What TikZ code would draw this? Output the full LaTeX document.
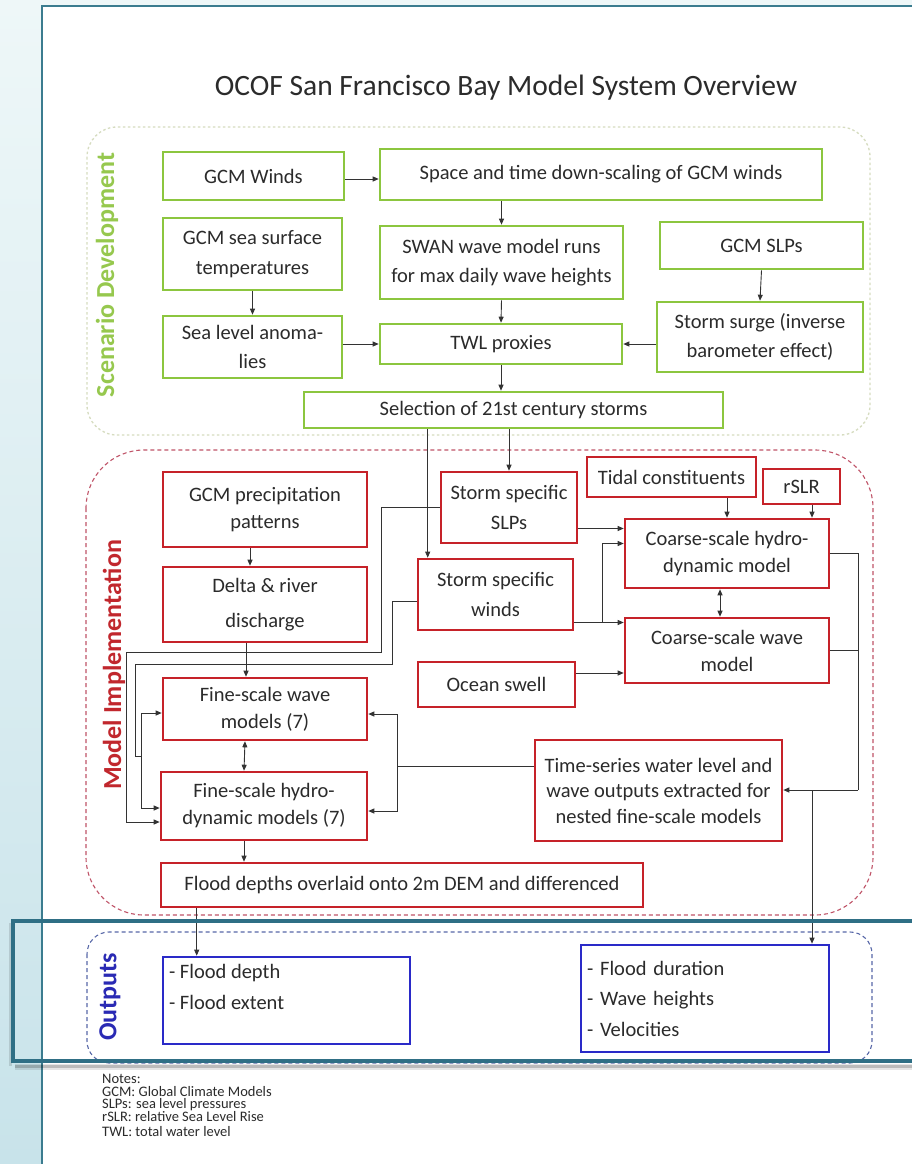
\documentclass[tikz,border=0pt]{standalone}
\usepackage{fontspec}
\setmainfont{Carlito}
\usetikzlibrary{arrows.meta,calc}

\definecolor{gframe}{HTML}{8CC63F}
\definecolor{rframe}{HTML}{C62229}
\definecolor{bframe}{HTML}{2A2AC8}
\definecolor{scgreen}{HTML}{96C84E}
\definecolor{mired}{HTML}{C1272D}
\definecolor{outblue}{HTML}{2A2AB4}
\definecolor{txt}{HTML}{2B2B2B}
\definecolor{lineg}{HTML}{333333}
\definecolor{pageteal}{HTML}{3B7C8F}
\definecolor{hlteal}{HTML}{2F6F85}
\definecolor{scenline}{HTML}{D6DCC0}
\definecolor{modelline}{HTML}{C05468}
\definecolor{outline}{HTML}{5868A8}
\definecolor{stripTop}{HTML}{EEF7F8}
\definecolor{stripBot}{HTML}{C8E3EA}

\begin{document}
\begin{tikzpicture}[x=1pt,y=-1pt,
  box/.style={draw, line width=2.6pt, inner sep=2pt, align=center, text=txt,
    font=\fontsize{20.5}{27}\selectfont},
  gbox/.style={box, draw=gframe, font=\fontsize{20.5}{29.5}\selectfont},
  rbox/.style={box, draw=rframe},
  bbox/.style={box, draw=bframe, align=left, font=\fontsize{20.5}{30.5}\selectfont},
  conn/.style={draw=lineg, line width=0.9pt},
  arr/.style={conn, -{Triangle[length=6pt,width=5pt]}},
  darr/.style={conn, {Triangle[length=6pt,width=5pt]}-{Triangle[length=6pt,width=5pt]}},
  seclabel/.style={rotate=90, font=\fontsize{26}{30}\selectfont\bfseries},
]
\useasboundingbox (0,0) rectangle (912,1164);

% backdrop and page
\shade[top color=stripTop, bottom color=stripBot] (0,0) rectangle (42,1164);
\fill[stripTop] (42,0) rectangle (912,6);
\fill[white] (42,6) rectangle (912,1164);
\draw[pageteal, line width=2pt] (42,1164) -- (42,6) -- (912,6);

% title
\node[text=txt, font=\fontsize{29.5}{34}\selectfont] (title) at (506,88) {OCOF San Francisco Bay Model System Overview};

% section frames
\draw[scenline, line width=1.3pt, dash pattern=on 2.5pt off 2.5pt, rounded corners=30pt]
  (87,127) rectangle (870,435);
\draw[modelline, line width=1.1pt, dash pattern=on 4pt off 3pt, rounded corners=58pt]
  (86,450) rectangle (873,915);
\draw[outline, line width=1.1pt, dash pattern=on 4pt off 3pt, rounded corners=22pt]
  (87,932) rectangle (872,1063);

% section labels
\node[seclabel, text=scgreen] (lscen) at (107,275) {Scenario Development};
\node[seclabel, text=mired] (lmodel) at (114,665) {Model Implementation};
\node[seclabel, text=outblue] (lout) at (110,997) {Outputs};

% scenario development
\node[gbox, minimum width=181pt, minimum height=48pt] (gcmw) at (253.5,176) {GCM Winds};
\node[gbox, minimum width=442pt, minimum height=51pt] (space) at (601,174.5) {Space and time down-scaling of GCM winds};
\node[gbox, minimum width=179pt, minimum height=72pt] (sst) at (252.5,254) {GCM sea surface\\temperatures};
\node[gbox, minimum width=243pt, minimum height=73pt] (swan) at (501.5,262.5) {SWAN wave model runs\\for max daily wave heights};
\node[gbox, minimum width=203pt, minimum height=47pt] (gslp) at (761.5,245.5) {GCM SLPs};
\node[gbox, minimum width=179pt, minimum height=62pt] (sla) at (252.5,347) {Sea level anoma-\\lies};
\node[gbox, minimum width=242pt, minimum height=40pt] (twl) at (501,344) {TWL proxies};
\node[gbox, minimum width=206pt, minimum height=70pt] (surge) at (760,337) {Storm surge (inverse\\barometer effect)};
\node[gbox, minimum width=419pt, minimum height=36pt] (sel) at (513.5,410) {Selection of 21st century storms};

\draw[arr] ([yshift=-3pt]gcmw.east) -- ([yshift=-3pt]gcmw.east -| space.west);
\draw[arr] (swan.north |- space.south) -- (swan.north);
\draw[arr] (swan.south) -- (twl.north);
\draw[arr] (twl.south) -- (twl.south |- sel.north);
\draw[arr] (sst.south) -- (sla.north);
\draw[arr] (twl.west -| sla.east) -- (twl.west);
\draw[arr] (gslp.south) -- (surge.north);
\draw[arr] (surge.west |- twl.east) -- (twl.east);

% model implementation
\node[rbox, minimum width=204pt, minimum height=75pt] (gprec) at (265,509.5) {GCM precipitation\\patterns};
\node[rbox, minimum width=204pt, minimum height=75pt] (delta) at (265,604.5) {Delta \& river\\[8pt]discharge};
\node[rbox, minimum width=204pt, minimum height=62pt] (fwave) at (265,709) {Fine-scale wave\\models (7)};
\node[rbox, minimum width=206pt, minimum height=68pt] (fhydro) at (264,806) {Fine-scale hydro-\\dynamic models (7)};
\node[rbox, minimum width=482pt, minimum height=44pt] (flood) at (402,885) {Flood depths overlaid onto 2m DEM and differenced};
\node[rbox, minimum width=136pt, minimum height=71pt] (sslp) at (509,507.5) {Storm specific\\[3pt]SLPs};
\node[rbox, minimum width=155pt, minimum height=71pt] (swind) at (495.5,594.5) {Storm specific\\[3pt]winds};
\node[rbox, minimum width=157pt, minimum height=45pt] (swell) at (496.5,684.5) {Ocean swell};
\node[rbox, minimum width=169pt, minimum height=40pt] (tidal) at (671.5,477) {Tidal constituents};
\node[rbox, minimum width=77pt, minimum height=35pt] (rslr) at (801.5,486.5) {rSLR};
\node[rbox, minimum width=204pt, minimum height=69pt] (chydro) at (727,553.5) {Coarse-scale hydro-\\dynamic model};
\node[rbox, minimum width=204pt, minimum height=65pt] (cwave) at (727,650.5) {Coarse-scale wave\\model};
\node[rbox, minimum width=247pt, minimum height=101pt] (ts) at (658.5,790.5) {Time-series water level and\\[-1.5pt]wave outputs extracted for\\[-1.5pt]nested fine-scale models};

% routing points
\coordinate (r1) at (381,652);
\coordinate (r2) at (126,822);
\coordinate (r3) at (392,664);
\coordinate (r4) at (135,756);
\coordinate (r5) at (141,756);
\coordinate (r6) at (397,766);
\coordinate (r7) at (602,622.5);
\coordinate (r8) at (858,790);
\coordinate (r9) at (812,790);

\draw[arr] (sslp.north |- sel.south) -- (sslp.north);
\draw[arr] ([xshift=11pt]swind.north west |- sel.south) -- ([xshift=11pt]swind.north west);
\draw[arr] ([xshift=-15pt]gprec.south) -- ([xshift=-15pt]delta.north);
\draw[arr] ([xshift=-19pt]delta.south) -- ([xshift=-19pt]fwave.north);
\draw[darr] ([xshift=-20pt]fwave.south) -- ([xshift=-20pt]fhydro.north);
\draw[arr] ([xshift=-20pt]fhydro.south) -- ([xshift=-20pt]fhydro.south |- flood.north);

% storm forcing to the fine-scale models
\draw[arr] (sslp.west) -| (r1) -| (r2) -- (r2 -| fhydro.west);
\draw[conn] ([yshift=-7pt]swind.west) -| (r3) -| (r4) -- (r5);
\draw[arr] (r5) |- ([yshift=-4pt]fwave.west);
\draw[arr] (r5) |- ([yshift=-2pt]fhydro.west);

% nested boundary conditions
\draw[conn] ([yshift=24.5pt]ts.west) -- (r6);
\draw[arr] (r6) |- ([yshift=-5pt]fwave.east);
\draw[arr] (r6) |- ([yshift=-5pt]fhydro.east);

% coarse-scale forcing
\draw[arr] ([yshift=-21pt]sslp.east) -- ([yshift=-21pt]sslp.east -| chydro.west);
\draw[arr] ([yshift=-28pt]swind.east) -- ([yshift=-28pt]swind.east -| cwave.west);
\draw[arr] (r7) |- ([yshift=10pt]chydro.west);
\draw[arr] ([yshift=11.5pt]swell.east) -- ([yshift=11.5pt]swell.east -| cwave.west);
\draw[arr] (chydro.north |- tidal.south) -- (chydro.north);
\draw[arr] ([xshift=10.5pt]rslr.south) -- ([xshift=10.5pt]rslr.south |- chydro.north);
\draw[darr] ([xshift=-7pt]chydro.south) -- ([xshift=-7pt]cwave.north);

% coarse-scale outputs
\draw[conn] (chydro.east) -| (r8);
\draw[conn] (cwave.east) -- (cwave.east -| r8);
\draw[arr] (r8) -- (r8 -| ts.east);

% outputs
\node[bbox, minimum width=247pt, minimum height=87pt] (out1) at (286.5,1000.5)
  {\parbox[c][72pt][t]{235pt}{\fontsize{20.5}{30.5}\selectfont\raggedright - Flood depth\\- Flood extent}};
\node[bbox, minimum width=248pt, minimum height=107pt, text width=236pt] (out2) at (705,998.5)
  {- Flood duration\\- Wave heights\\- Velocities};

\draw[arr] ([xshift=37pt]flood.south west) -- ([xshift=37pt]flood.south west |- out1.north);
\draw[arr] (r9) -- (r9 |- out2.north);

% highlight frame round the outputs band, with a soft shadow under it
\draw[black, opacity=0.10, line width=6pt] (15,1067) -- (916,1067);
\draw[black, opacity=0.18, line width=3pt] (15,1066) -- (916,1066);
\draw[black, opacity=0.12, line width=3pt] (10,923) -- (10,1066);
\draw[hlteal, line width=3.5pt] (13,921) rectangle (916,1061);

% notes
\node[anchor=north west, align=left, inner sep=0pt, text=txt,
  font=\fontsize{14.5}{12.5}\selectfont] (notes) at (102,1074)
  {Notes:\\GCM: Global Climate Models\\SLPs: sea level pressures\\rSLR: relative Sea Level Rise\\[3pt]TWL: total water level};
\end{tikzpicture}
\end{document}
